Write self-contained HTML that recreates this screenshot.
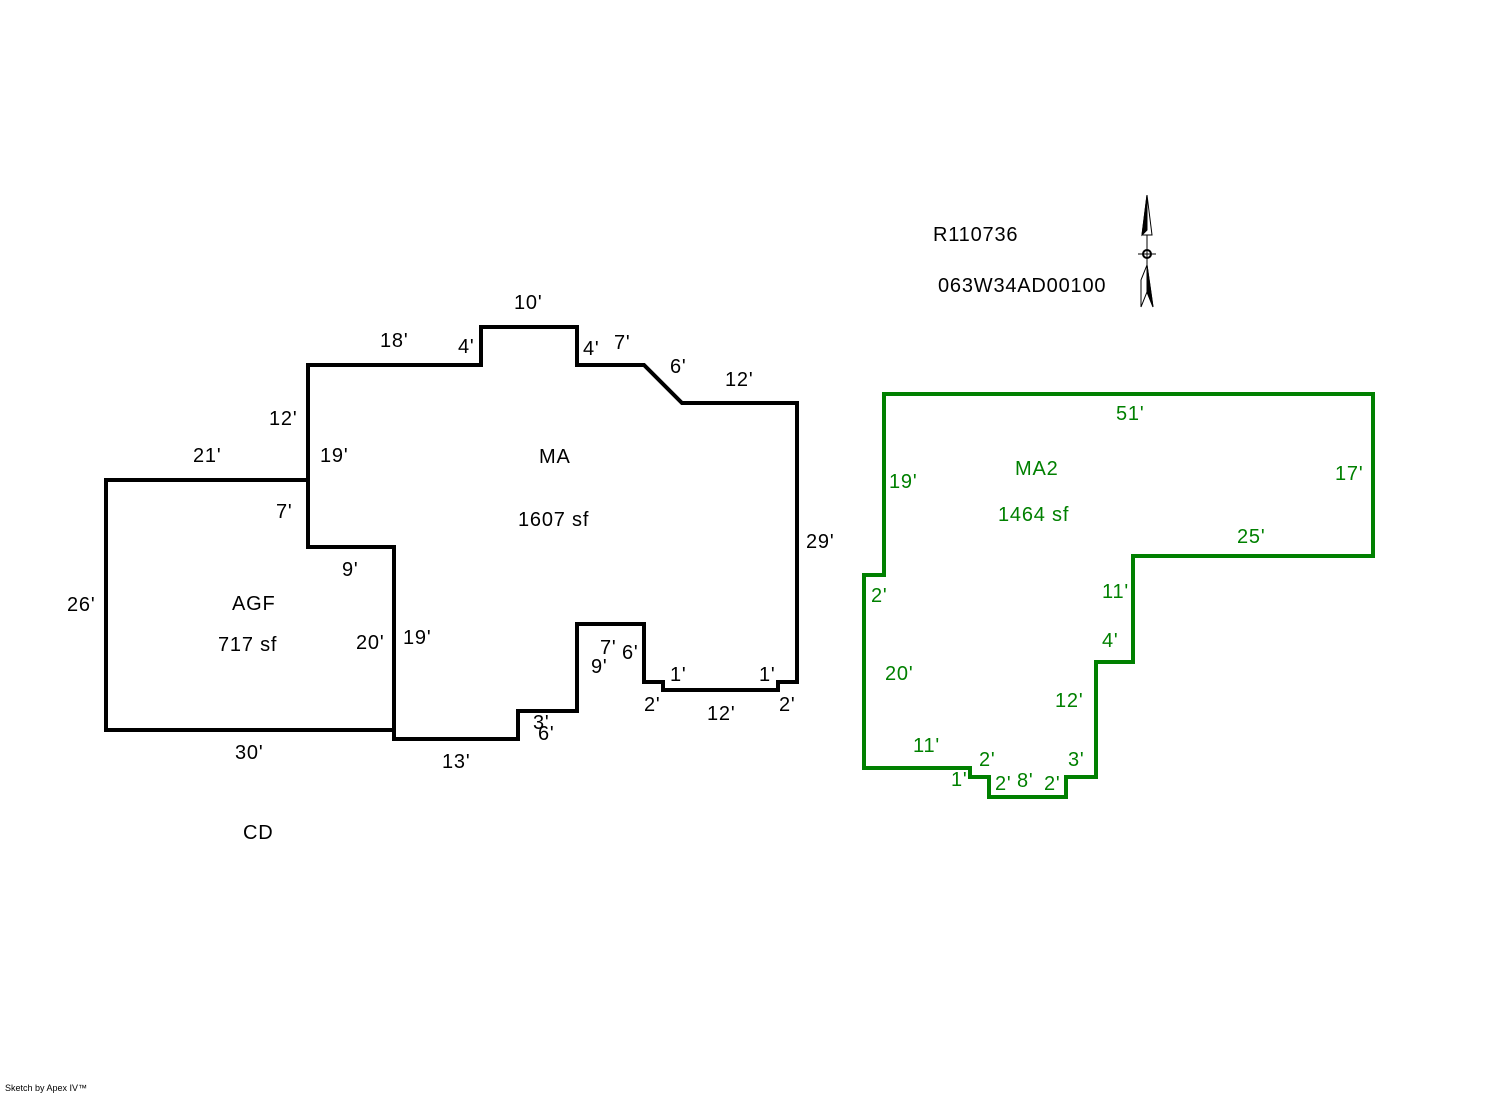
<!DOCTYPE html>
<html><head><style>
body{margin:0;background:#fff;}
svg text{font-family:"Liberation Sans",Arial,sans-serif;font-size:20px;letter-spacing:0.8px;}
</style></head><body>
<svg width="1492" height="1094" viewBox="0 0 1492 1094" xmlns="http://www.w3.org/2000/svg">
<rect width="1492" height="1094" fill="#fff"/>
<g fill="none" stroke="#000" stroke-width="4" stroke-linejoin="miter">
<polygon points="308,365 481,365 481,327 577,327 577,365 644,365 682,403 797,403 797,682 778,682 778,690 663,690 663,682 644,682 644,624 577,624 577,711 518,711 518,739 394,739 394,547 308,547"/>
<polyline points="308,480 106,480 106,730 394,730"/>
</g>
<polygon fill="none" stroke="#008000" stroke-width="4" points="884,394 1373,394 1373,556 1133,556 1133,662 1096,662 1096,777 1066,777 1066,797 989,797 989,777 970,777 970,768 864,768 864,575 884,575"/>
<g fill="#000">
<text x="514" y="309">10'</text>
<text x="380" y="347">18'</text>
<text x="458" y="353">4'</text>
<text x="583" y="355">4'</text>
<text x="614" y="349">7'</text>
<text x="670" y="373">6'</text>
<text x="725" y="386">12'</text>
<text x="269" y="425">12'</text>
<text x="193" y="462">21'</text>
<text x="320" y="462">19'</text>
<text x="539" y="463">MA</text>
<text x="518" y="526">1607 sf</text>
<text x="276" y="518">7'</text>
<text x="806" y="548">29'</text>
<text x="342" y="576">9'</text>
<text x="67" y="611">26'</text>
<text x="232" y="610">AGF</text>
<text x="218" y="651">717 sf</text>
<text x="356" y="649">20'</text>
<text x="403" y="644">19'</text>
<text x="600" y="654">7'</text>
<text x="622" y="659">6'</text>
<text x="591" y="673">9'</text>
<text x="670" y="681">1'</text>
<text x="759" y="681">1'</text>
<text x="644" y="711">2'</text>
<text x="779" y="711">2'</text>
<text x="707" y="720">12'</text>
<text x="533" y="729">3'</text>
<text x="538" y="740">6'</text>
<text x="235" y="759">30'</text>
<text x="442" y="768">13'</text>
<text x="243" y="839">CD</text>
<text x="933" y="241">R110736</text>
<text x="938" y="292">063W34AD00100</text>
<text x="5" y="1091" style="font-size:9px;letter-spacing:0">Sketch by Apex IV™</text>
</g>
<g fill="#008000">
<text x="1116" y="420">51'</text>
<text x="1015" y="475">MA2</text>
<text x="1335" y="480">17'</text>
<text x="889" y="488">19'</text>
<text x="998" y="521">1464 sf</text>
<text x="1237" y="543">25'</text>
<text x="1102" y="598">11'</text>
<text x="871" y="602">2'</text>
<text x="1102" y="647">4'</text>
<text x="885" y="680">20'</text>
<text x="1055" y="707">12'</text>
<text x="913" y="752">11'</text>
<text x="979" y="766">2'</text>
<text x="1068" y="766">3'</text>
<text x="951" y="786">1'</text>
<text x="995" y="790">2'</text>
<text x="1017" y="787">8'</text>
<text x="1044" y="790">2'</text>
</g>
<g stroke="#000" stroke-width="1">
<polygon points="1147,195 1142,235 1152,235" fill="#fff"/>
<polygon points="1147,195 1142,235 1147,230" fill="#000"/>
<line x1="1147" y1="235" x2="1147" y2="270"/>
<line x1="1138" y1="254" x2="1156" y2="254"/>
<circle cx="1147" cy="254" r="4" fill="none" stroke-width="2"/>
<polygon points="1147,265 1141,280 1141,307 1147,292 1153,307" fill="#fff"/>
<polygon points="1147,265 1147,292 1153,307" fill="#000"/>
</g>
</svg>
</body></html>
